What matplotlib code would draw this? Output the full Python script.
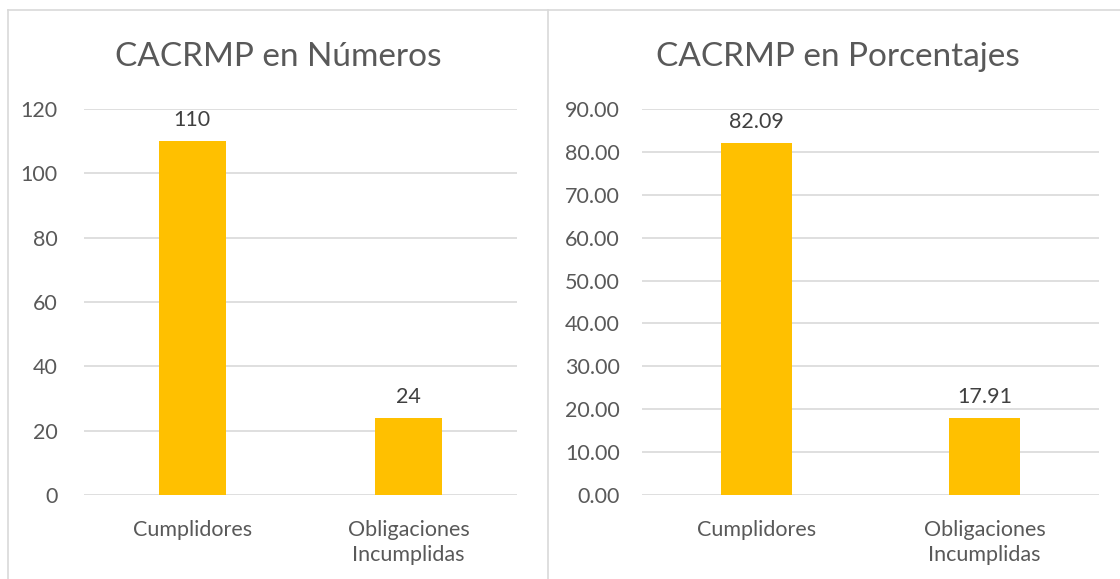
import numpy as np
import matplotlib.pyplot as plt
from matplotlib.lines import Line2D

# data
categorias = ['Cumplidores', 'Obligaciones\nIncumplidas']
numeros = [110, 24]
porcentajes = [82.09, 17.91]

titulos = ['CACRMP en Números', 'CACRMP en Porcentajes']

plt.rcParams['font.family'] = ['Lato', 'DejaVu Sans']
gris = '#595959'
amarillo = '#FFC000'
linea = '#d9d9d9'

fig = plt.figure(figsize=(11.2, 5.79), dpi=100)

# borders of the two chart boxes
W, H = 1120, 579
fig.add_artist(Line2D([8 / W, 1], [1 - 10 / H, 1 - 10 / H], color=linea, lw=1.2))
fig.add_artist(Line2D([8 / W, 8 / W], [0, 1 - 10 / H], color=linea, lw=1.2))
fig.add_artist(Line2D([548 / W, 548 / W], [0, 1 - 10 / H], color=linea, lw=1.2))

ax1 = fig.add_axes([84 / W, 1 - 495 / H, 433 / W, 386 / H])
ax2 = fig.add_axes([642 / W, 1 - 495 / H, 457 / W, 386 / H])

x = np.arange(len(categorias))

def dibujar(ax, valores, ymax, paso, fmt, pad):
    barras = ax.bar(x, valores, width=0.31, color=amarillo, zorder=3)
    ax.set_xlim(-0.5, 1.5)
    ax.set_ylim(0, ymax)
    ax.set_yticks(np.arange(0, ymax + paso / 2, paso))
    ax.set_yticklabels([fmt.format(v) for v in np.arange(0, ymax + paso / 2, paso)])
    ax.set_xticks(x)
    ax.set_xticklabels(categorias, linespacing=1.3)
    ax.grid(axis='y', color=linea, lw=1.2, zorder=0)
    for s in ax.spines.values():
        s.set_visible(False)
    ax.tick_params(axis='y', length=0, pad=pad, labelsize=15.5, labelcolor=gris)
    ax.tick_params(axis='x', length=0, pad=18, labelsize=15.5, labelcolor=gris)
    for b, v in zip(barras, valores):
        ax.annotate(fmt.format(v), (b.get_x() + b.get_width() / 2, v),
                    xytext=(0, 8), textcoords='offset points',
                    ha='center', va='bottom', fontsize=15.5, color='#404040')

dibujar(ax1, numeros, 120, 20, '{:.0f}', 19)
dibujar(ax2, porcentajes, 90, 10, '{:.2f}', 16)

# titles centred on each chart box
fig.text(278 / W, 1 - 57 / H, titulos[0], fontsize=24, color=gris, ha='center', va='center')
fig.text(838 / W, 1 - 57 / H, titulos[1], fontsize=24, color=gris, ha='center', va='center')

fig.savefig('out.png', dpi=100)
